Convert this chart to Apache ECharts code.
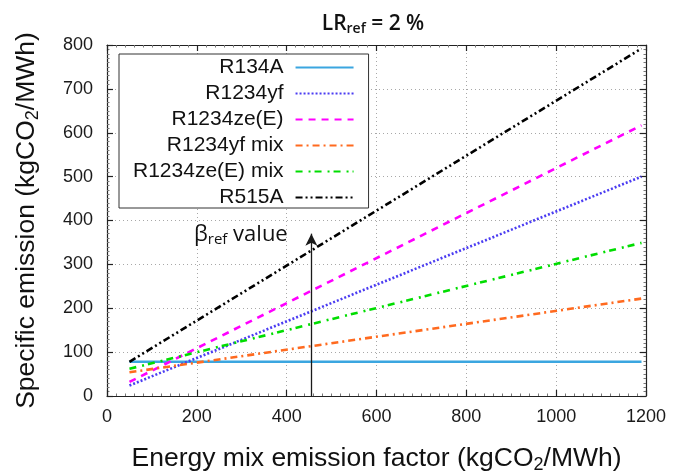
<!DOCTYPE html>
<html>
<head>
<meta charset="utf-8">
<script src="https://cdn.jsdelivr.net/npm/echarts@6/dist/echarts.min.js"></script>
<style>
html,body{margin:0;padding:0;background:#fff;}
#chart{width:673px;height:474px;}
</style>
</head>
<body>
<div id="chart"></div>
<script>
// ---- data ----
const xPoints = [50, 1190];
const seriesNames = ['R134A', 'R1234yf', 'R1234ze(E)', 'R1234yf mix', 'R1234ze(E) mix', 'R515A'];
const r134a = [78, 78];
const r1234yf = [24, 500];
const r1234ze = [32, 617];
const r1234yfMix = [54, 222];
const r1234zeMix = [62, 349];
const r515a = [78, 792];
const xTicks = [0, 200, 400, 600, 800, 1000, 1200];
const yTicks = [0, 100, 200, 300, 400, 500, 600, 700, 800];
const betaRefX = 455;
const betaArrowTop = 370;

const values = [r134a, r1234yf, r1234ze, r1234yfMix, r1234zeMix, r515a];
const colors = ['#3ba6e0', '#4b3cf2', '#ff00ff', '#ff6a1f', '#00dd00', '#000000'];
const dashes = ['solid', [2, 2], [7, 6], [7, 4, 2, 4], [7, 6, 2, 4], [7, 3, 2, 3, 2, 3]];

const chart = echarts.init(document.getElementById('chart'), null, {renderer: 'canvas'});

const series = seriesNames.map((n, i) => ({
  name: n,
  type: 'line',
  symbol: 'none',
  xAxisIndex: 0,
  yAxisIndex: 0,
  z: 3,
  data: xPoints.map((x, k) => [x, values[i][k]]),
  lineStyle: {color: colors[i], width: 2.6, type: dashes[i]},
  itemStyle: {color: colors[i]}
}));

series.push({
  name: 'arrow',
  type: 'line',
  data: [],
  xAxisIndex: 0,
  yAxisIndex: 0,
  markLine: {
    silent: true,
    symbol: ['none', 'arrow'],
    symbolSize: [9, 12],
    label: {show: false},
    lineStyle: {color: '#1a1a1a', width: 1.3, type: 'solid'},
    data: [[{coord: [betaRefX, 0]}, {coord: [betaRefX, betaArrowTop]}]]
  }
});

const fontMain = '"Liberation Sans", Arial, sans-serif';
const fontCal = '"Open Sans", "Noto Sans", sans-serif';
const labelColor = '#1a1a1a';
const gridLine = {show: true, lineStyle: {color: '#a8a8a8', width: 1, type: [1, 3]}};
const plainNum = v => String(v);

function mkAxis(extra) {
  return Object.assign({
    type: 'value',
    axisLine: {show: true, onZero: false, lineStyle: {color: '#222', width: 1.2}},
    axisTick: {show: true, inside: true, length: 6, lineStyle: {color: '#222', width: 1.2}},
    minorTick: {show: true, splitNumber: 10, length: 2.5, lineStyle: {color: '#777', width: 1}},
    splitLine: {show: false},
    axisLabel: {show: false}
  }, extra);
}

const option = {
  backgroundColor: '#fff',
  animation: false,
  title: {
    text: 'LR{sub|ref} = 2 %',
    left: 368,
    top: 7,
    textAlign: 'center',
    textStyle: {
      fontFamily: fontCal,
      fontSize: 21,
      fontWeight: 600,
      color: '#111',
      rich: {
        sub: {fontFamily: fontCal, fontSize: 14, fontWeight: 600, color: '#111', verticalAlign: 'bottom', padding: [10, 0, 0, 0]}
      }
    }
  },
  grid: {left: 107, right: 27, top: 45, bottom: 78, containLabel: false, outerBoundsMode: 'none'},
  legend: {
    orient: 'vertical',
    left: 119,
    top: 54,
    align: 'right',
    data: seriesNames,
    itemWidth: 58,
    itemHeight: 14,
    itemGap: 5,
    padding: [3, 14, 0, 14],
    borderColor: '#333',
    borderWidth: 1,
    backgroundColor: '#fff',
    itemStyle: {opacity: 0},
    textStyle: {fontFamily: fontMain, fontSize: 21, color: '#111', padding: [0, 7, 0, 0]},
    z: 5
  },
  xAxis: [
    mkAxis({
      min: 0, max: 1200, interval: 200, position: 'bottom',
      splitLine: gridLine,
      axisLabel: {show: true, fontFamily: fontMain, fontSize: 18, color: labelColor, margin: 12, formatter: plainNum},
      name: 'Energy mix emission factor (kgCO{sub|2}/MWh)',
      nameLocation: 'middle',
      nameGap: 48,
      nameTextStyle: {
        fontFamily: fontMain, fontSize: 26.5, color: '#111',
        rich: {sub: {fontFamily: fontMain, fontSize: 18, color: '#111', verticalAlign: 'bottom', padding: [12, 0, 0, 0]}}
      }
    }),
    mkAxis({min: 0, max: 1200, interval: 200, position: 'top'})
  ],
  yAxis: [
    mkAxis({
      min: 0, max: 800, interval: 100, position: 'left',
      splitLine: gridLine,
      axisLabel: {show: true, fontFamily: fontMain, fontSize: 18, color: labelColor, margin: 14, formatter: plainNum},
      name: 'Specific emission (kgCO{sub|2}/MWh)',
      nameLocation: 'middle',
      nameGap: 65,
      nameTextStyle: {
        fontFamily: fontMain, fontSize: 26.5, color: '#111',
        rich: {sub: {fontFamily: fontMain, fontSize: 18, color: '#111', verticalAlign: 'bottom', padding: [12, 0, 0, 0]}}
      }
    }),
    mkAxis({min: 0, max: 800, interval: 100, position: 'right'})
  ],
  series: series,
  graphic: [{
    type: 'text',
    left: 194,
    top: 224,
    z: 10,
    style: {
      text: 'β{sub|ref} value',
      font: '22px "Open Sans", "Noto Sans", sans-serif',
      fill: '#111',
      rich: {
        sub: {fontFamily: fontCal, fontSize: 15, fill: '#111', verticalAlign: 'bottom', padding: [10, 0, 0, 0]}
      }
    }
  }]
};

chart.setOption(option);
</script>
</body>
</html>
